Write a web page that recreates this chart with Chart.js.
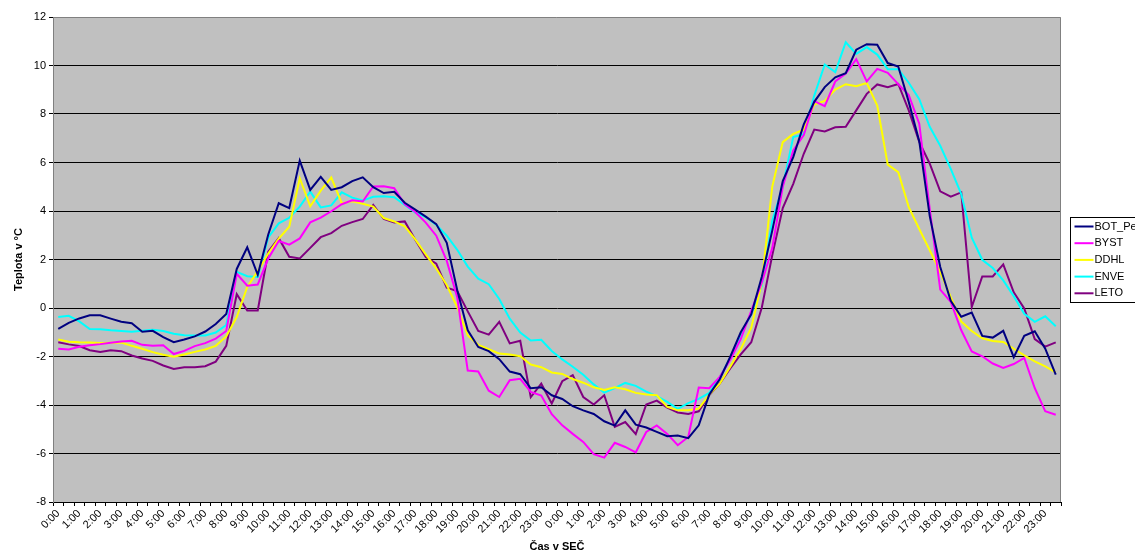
<!DOCTYPE html>
<html lang="cs">
<head>
  <meta charset="UTF-8">
  <title>Teplota v °C</title>
  <style>
    body { margin: 0; background: #fff; }
    #graf { display: block; }
  </style>
</head>
<body>
<canvas id="graf" width="1135" height="554"></canvas>

<script src="https://cdn.jsdelivr.net/npm/chart.js"></script>
<script>
  // casy po 30 minutach, dva dny za sebou
  const hodiny = ['0:00','0:30','1:00','1:30','2:00','2:30','3:00','3:30','4:00','4:30','5:00','5:30',
                  '6:00','6:30','7:00','7:30','8:00','8:30','9:00','9:30','10:00','10:30','11:00','11:30',
                  '12:00','12:30','13:00','13:30','14:00','14:30','15:00','15:30','16:00','16:30','17:00','17:30',
                  '18:00','18:30','19:00','19:30','20:00','20:30','21:00','21:30','22:00','22:30','23:00','23:30'];
  const casy = hodiny.concat(hodiny);

  const stanice = ['BOT_Pe', 'BYST', 'DDHL', 'ENVE', 'LETO'];
  const barvy = ['#000080', '#ff00ff', '#ffff00', '#00ffff', '#800080'];

  const botPe = [-0.86,-0.61,-0.43,-0.30,-0.30,-0.44,-0.57,-0.63,-0.98,-0.94,-1.20,-1.41,
                 -1.30,-1.17,-0.97,-0.66,-0.25,1.61,2.50,1.37,3.03,4.32,4.12,6.08,
                 4.87,5.41,4.87,4.98,5.23,5.39,4.98,4.74,4.79,4.34,4.06,3.77,
                 3.46,2.69,0.73,-0.92,-1.61,-1.78,-2.11,-2.62,-2.73,-3.31,-3.27,-3.60,
                 -3.75,-4.05,-4.22,-4.37,-4.67,-4.85,-4.22,-4.81,-4.93,-5.11,-5.29,-5.26,
                 -5.37,-4.84,-3.57,-2.94,-2.01,-1.00,-0.26,1.28,3.19,5.23,6.22,7.57,
                 8.50,9.11,9.51,9.68,10.65,10.88,10.86,10.10,9.96,8.50,6.88,3.79,
                 1.69,0.30,-0.36,-0.19,-1.15,-1.22,-0.94,-2.03,-1.15,-0.96,-1.68,-2.75];

  const byst = [-1.68,-1.71,-1.60,-1.54,-1.49,-1.43,-1.38,-1.35,-1.52,-1.56,-1.54,-1.90,
                -1.77,-1.57,-1.45,-1.26,-0.95,1.41,0.92,0.97,2.04,2.76,2.61,2.87,
                3.53,3.73,3.99,4.28,4.44,4.39,5.01,5.02,4.94,4.28,3.96,3.52,
                2.98,1.94,0.43,-2.58,-2.62,-3.41,-3.67,-2.98,-2.92,-3.46,-3.61,-4.38,
                -4.84,-5.19,-5.52,-6.03,-6.17,-5.56,-5.73,-5.95,-5.11,-4.84,-5.19,-5.66,
                -5.32,-3.28,-3.31,-2.84,-2.13,-1.28,-0.12,1.04,2.47,5.00,6.50,7.13,
                8.53,8.32,9.34,9.67,10.26,9.34,9.86,9.70,9.23,8.78,7.60,4.08,
                0.76,0.25,-0.92,-1.79,-1.99,-2.29,-2.47,-2.31,-2.06,-3.30,-4.26,-4.40];

  const ddhl = [-1.30,-1.39,-1.41,-1.42,-1.44,-1.43,-1.42,-1.56,-1.68,-1.82,-1.93,-2.01,
                -1.92,-1.81,-1.71,-1.56,-1.17,-0.37,0.87,1.52,2.25,2.86,3.35,5.35,
                4.19,4.84,5.38,4.32,4.40,4.30,4.18,3.71,3.57,3.37,2.83,2.21,
                1.63,0.95,0.03,-1.13,-1.52,-1.70,-1.88,-1.92,-1.99,-2.33,-2.44,-2.66,
                -2.72,-2.93,-3.08,-3.27,-3.38,-3.27,-3.35,-3.50,-3.57,-3.60,-4.08,-4.22,
                -4.22,-4.15,-3.57,-3.12,-2.42,-1.69,-0.81,1.03,5.00,6.84,7.18,7.35,
                8.39,8.54,9.01,9.23,9.15,9.28,8.35,5.91,5.60,4.16,3.26,2.38,
                1.48,0.45,-0.56,-0.95,-1.25,-1.36,-1.40,-1.68,-1.95,-2.20,-2.41,-2.65];

  const enve = [-0.37,-0.32,-0.55,-0.87,-0.88,-0.92,-0.95,-0.98,-0.94,-0.90,-0.95,-1.06,
                -1.12,-1.13,-1.13,-1.01,-0.70,1.49,1.31,1.28,2.91,3.49,3.72,4.18,
                4.80,4.15,4.23,4.77,4.55,4.43,4.59,4.61,4.57,4.25,3.93,3.75,
                3.43,2.98,2.40,1.71,1.21,0.98,0.37,-0.44,-1.01,-1.34,-1.31,-1.77,
                -2.12,-2.42,-2.75,-3.15,-3.49,-3.30,-3.09,-3.21,-3.45,-3.63,-3.87,-4.16,
                -3.92,-3.75,-3.50,-2.86,-2.07,-1.10,-0.25,0.91,3.60,5.01,7.05,7.17,
                8.76,10.04,9.73,10.96,10.48,10.76,10.45,9.85,9.85,9.29,8.61,7.47,
                6.69,5.74,4.70,2.90,1.99,1.65,1.14,0.49,-0.24,-0.57,-0.34,-0.75];

  const leto = [-1.41,-1.50,-1.57,-1.74,-1.81,-1.74,-1.78,-1.96,-2.08,-2.18,-2.37,-2.51,
                -2.44,-2.44,-2.40,-2.21,-1.56,0.57,-0.10,-0.10,2.32,2.88,2.11,2.04,
                2.48,2.92,3.09,3.39,3.54,3.67,4.25,3.67,3.53,3.57,2.81,2.10,
                1.83,0.84,0.70,-0.14,-0.95,-1.10,-0.57,-1.46,-1.35,-3.68,-3.12,-3.94,
                -3.02,-2.77,-3.67,-3.98,-3.60,-4.90,-4.70,-5.20,-3.98,-3.82,-4.11,-4.31,
                -4.37,-4.26,-3.59,-3.12,-2.49,-1.91,-1.41,0.01,2.17,4.12,5.12,6.36,
                7.36,7.28,7.45,7.47,8.15,8.83,9.22,9.10,9.24,8.15,6.85,5.95,
                4.81,4.59,4.77,0.04,1.30,1.30,1.80,0.65,-0.02,-1.28,-1.59,-1.42];

  const rady = [botPe, byst, ddhl, enve, leto];
  const osaY = { min: -8, max: 12, krok: 2 };

  const pismo = 'Liberation Sans, Arial, sans-serif';

  // sede pozadi, okraj a legenda v ramecku jako v Excelu
  const vzhled = {
    id: 'vzhled',
    beforeDraw(chart) {
      const { ctx, chartArea: a } = chart;
      ctx.save();
      ctx.fillStyle = '#c0c0c0';
      ctx.fillRect(a.left, a.top, a.right - a.left, a.bottom - a.top);
      ctx.restore();
    },
    afterDraw(chart) {
      const { ctx, chartArea: a } = chart;
      ctx.save();
      ctx.strokeStyle = '#808080';
      ctx.lineWidth = 1;
      ctx.beginPath();
      ctx.moveTo(a.left, a.top + 0.5);
      ctx.lineTo(a.right - 0.5, a.top + 0.5);
      ctx.lineTo(a.right - 0.5, a.bottom);
      ctx.stroke();

      const lx = 1070.5, ly = 217.5, radek = 16.7;
      ctx.fillStyle = '#fff';
      ctx.fillRect(lx, ly, 80, 85);
      ctx.strokeStyle = '#000';
      ctx.strokeRect(lx, ly, 80, 85);
      ctx.font = '11px ' + pismo;
      ctx.textBaseline = 'middle';
      chart.data.datasets.forEach((ds, i) => {
        const y = ly + 9 + i * radek;
        ctx.strokeStyle = ds.borderColor;
        ctx.lineWidth = 2;
        ctx.beginPath();
        ctx.moveTo(lx + 4, y);
        ctx.lineTo(lx + 23, y);
        ctx.stroke();
        ctx.fillStyle = '#000';
        ctx.fillText(ds.label, lx + 24, y);
      });
      ctx.restore();
    }
  };

  const ctx = document.getElementById('graf').getContext('2d');
  new Chart(ctx, {
    type: 'line',
    data: {
      labels: casy,
      datasets: stanice.map((jmeno, i) => ({
        label: jmeno,
        data: rady[i],
        borderColor: barvy[i],
        backgroundColor: barvy[i],
        borderWidth: 2,
        pointRadius: 0,
        tension: 0,
        fill: false
      }))
    },
    options: {
      responsive: false,
      animation: false,
      events: [],
      layout: { padding: { top: 17, right: 74, bottom: 0, left: 0 } },
      plugins: {
        legend: { display: false },
        tooltip: { enabled: false }
      },
      scales: {
        x: {
          type: 'category',
          offset: true,
          grid: { drawOnChartArea: false, drawTicks: true, tickLength: 4, tickColor: '#000', offset: true },
          border: { color: '#000', width: 1 },
          ticks: {
            autoSkip: false,
            maxRotation: 45,
            minRotation: 45,
            padding: 1,
            color: '#000',
            font: { family: pismo, size: 11 },
            callback: function (v) {
              const l = this.getLabelForValue(v);
              return l.endsWith(':00') ? l : '';
            }
          },
          title: {
            display: true,
            text: 'Čas v SEČ',
            color: '#000',
            font: { family: pismo, size: 11, weight: 'bold' },
            padding: { top: 0, bottom: 0 }
          },
          afterFit: s => { s.height = 52; }
        },
        y: {
          min: osaY.min,
          max: osaY.max,
          grid: {
            color: c => (c.tick && (c.tick.value === osaY.min || c.tick.value === osaY.max)) ? 'rgba(0,0,0,0)' : '#000',
            tickColor: '#000',
            tickLength: 4
          },
          border: { color: '#808080', width: 1 },
          ticks: {
            stepSize: osaY.krok,
            padding: 3,
            color: '#000',
            font: { family: pismo, size: 11 }
          },
          title: {
            display: true,
            text: 'Teplota v °C',
            color: '#000',
            font: { family: pismo, size: 11, weight: 'bold' },
            padding: { top: 12, bottom: 0 }
          },
          afterFit: s => { s.width = 53; }
        }
      }
    },
    plugins: [vzhled]
  });
</script>
</body>
</html>
